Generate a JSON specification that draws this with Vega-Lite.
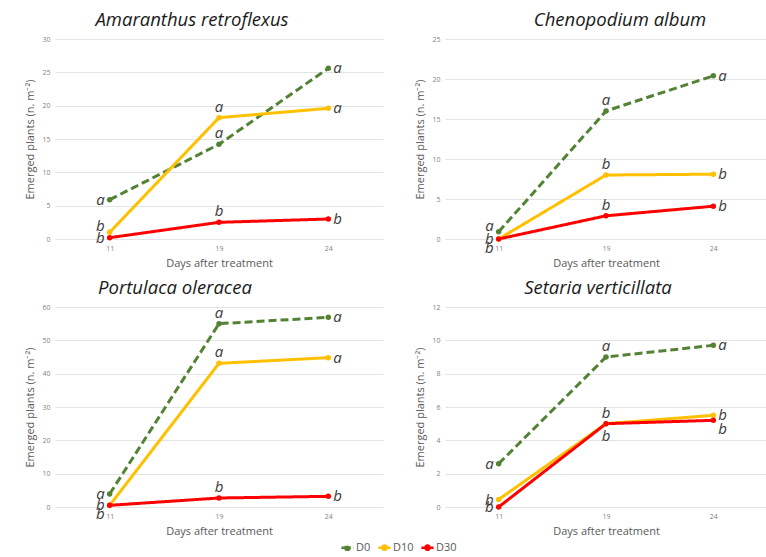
{
  "$schema": "https://vega.github.io/schema/vega-lite/v6.json",
  "padding": {"left": 24, "top": 10, "right": 0, "bottom": 0},
  "background": "white",
  "datasets": {
    "d": [
      {"sp": "Amaranthus retroflexus", "day": "11", "trt": "D0", "v": 5.9, "lab": "a", "pos": "LM"},
      {"sp": "Amaranthus retroflexus", "day": "19", "trt": "D0", "v": 14.2, "lab": "a", "pos": "CU"},
      {"sp": "Amaranthus retroflexus", "day": "24", "trt": "D0", "v": 25.6, "lab": "a", "pos": "RM"},
      {"sp": "Amaranthus retroflexus", "day": "11", "trt": "D10", "v": 1.0, "lab": "b", "pos": "LU"},
      {"sp": "Amaranthus retroflexus", "day": "19", "trt": "D10", "v": 18.2, "lab": "a", "pos": "CU"},
      {"sp": "Amaranthus retroflexus", "day": "24", "trt": "D10", "v": 19.6, "lab": "a", "pos": "RM"},
      {"sp": "Amaranthus retroflexus", "day": "11", "trt": "D30", "v": 0.2, "lab": "b", "pos": "LM"},
      {"sp": "Amaranthus retroflexus", "day": "19", "trt": "D30", "v": 2.5, "lab": "b", "pos": "CU"},
      {"sp": "Amaranthus retroflexus", "day": "24", "trt": "D30", "v": 3.0, "lab": "b", "pos": "RM"},
      {"sp": "Chenopodium album", "day": "11", "trt": "D0", "v": 0.9, "lab": "a", "pos": "LU"},
      {"sp": "Chenopodium album", "day": "19", "trt": "D0", "v": 16.0, "lab": "a", "pos": "CU"},
      {"sp": "Chenopodium album", "day": "24", "trt": "D0", "v": 20.4, "lab": "a", "pos": "RM"},
      {"sp": "Chenopodium album", "day": "11", "trt": "D10", "v": 0.0, "lab": "b", "pos": "LM"},
      {"sp": "Chenopodium album", "day": "19", "trt": "D10", "v": 8.0, "lab": "b", "pos": "CU"},
      {"sp": "Chenopodium album", "day": "24", "trt": "D10", "v": 8.1, "lab": "b", "pos": "RM"},
      {"sp": "Chenopodium album", "day": "11", "trt": "D30", "v": 0.0, "lab": "b", "pos": "LD"},
      {"sp": "Chenopodium album", "day": "19", "trt": "D30", "v": 2.9, "lab": "b", "pos": "CU"},
      {"sp": "Chenopodium album", "day": "24", "trt": "D30", "v": 4.1, "lab": "b", "pos": "RM"},
      {"sp": "Portulaca oleracea", "day": "11", "trt": "D0", "v": 3.9, "lab": "a", "pos": "LM"},
      {"sp": "Portulaca oleracea", "day": "19", "trt": "D0", "v": 55.0, "lab": "a", "pos": "CU"},
      {"sp": "Portulaca oleracea", "day": "24", "trt": "D0", "v": 56.9, "lab": "a", "pos": "RM"},
      {"sp": "Portulaca oleracea", "day": "11", "trt": "D10", "v": 0.5, "lab": "b", "pos": "LM"},
      {"sp": "Portulaca oleracea", "day": "19", "trt": "D10", "v": 43.1, "lab": "a", "pos": "CU"},
      {"sp": "Portulaca oleracea", "day": "24", "trt": "D10", "v": 44.8, "lab": "a", "pos": "RM"},
      {"sp": "Portulaca oleracea", "day": "11", "trt": "D30", "v": 0.5, "lab": "b", "pos": "LD"},
      {"sp": "Portulaca oleracea", "day": "19", "trt": "D30", "v": 2.7, "lab": "b", "pos": "CU"},
      {"sp": "Portulaca oleracea", "day": "24", "trt": "D30", "v": 3.2, "lab": "b", "pos": "RM"},
      {"sp": "Setaria verticillata", "day": "11", "trt": "D0", "v": 2.6, "lab": "a", "pos": "LM"},
      {"sp": "Setaria verticillata", "day": "19", "trt": "D0", "v": 9.0, "lab": "a", "pos": "CU"},
      {"sp": "Setaria verticillata", "day": "24", "trt": "D0", "v": 9.7, "lab": "a", "pos": "RM"},
      {"sp": "Setaria verticillata", "day": "11", "trt": "D10", "v": 0.45, "lab": "b", "pos": "LM"},
      {"sp": "Setaria verticillata", "day": "19", "trt": "D10", "v": 5.0, "lab": "b", "pos": "CU"},
      {"sp": "Setaria verticillata", "day": "24", "trt": "D10", "v": 5.5, "lab": "b", "pos": "RM"},
      {"sp": "Setaria verticillata", "day": "11", "trt": "D30", "v": 0.0, "lab": "b", "pos": "LM"},
      {"sp": "Setaria verticillata", "day": "19", "trt": "D30", "v": 5.0, "lab": "b", "pos": "CD"},
      {"sp": "Setaria verticillata", "day": "24", "trt": "D30", "v": 5.2, "lab": "b", "pos": "RD"}
    ]
  },
  "data": {"name": "d"},
  "columns": 2,
  "spacing": {"row": 10, "column": 31},
  "concat": [
    {
      "width": 328, "height": 200,
      "title": {"text": "Amaranthus retroflexus", "frame": "group", "dx": -27},
      "transform": [{"filter": "datum.sp == 'Amaranthus retroflexus'"}],
      "encoding": {
        "x": {"field": "day", "type": "ordinal", "scale": {"type": "point", "padding": 0.5}, "axis": {"title": "Days after treatment", "labelAngle": 0, "grid": false}},
        "y": {"field": "v", "type": "quantitative", "scale": {"domain": [0, 30]}, "axis": {"title": "Emerged plants (n. m⁻²)", "values": [0, 5, 10, 15, 20, 25, 30]}}
      },
      "layer": [
        {"mark": {"type": "line", "strokeWidth": 3, "point": {"filled": true, "size": 30}},
         "encoding": {
           "color": {"field": "trt", "type": "nominal", "title": null, "scale": {"domain": ["D0", "D10", "D30"], "range": ["#548235", "#ffc000", "#ff0000"]},
             "legend": {"orient": "none", "legendX": 285, "legendY": 501, "direction": "horizontal", "encode": {"symbols": {"update": {"fill": {"scale": "color", "field": "value"}}}}}},
           "strokeDash": {"field": "trt", "type": "nominal", "title": null, "scale": {"domain": ["D0", "D10", "D30"], "range": [[8, 4], [1, 0], [1, 0]]}, "legend": {"orient": "none", "legendX": 285, "legendY": 501, "direction": "horizontal"}}
         }},
        {"mark": {"type": "text", "font": "Open Sans", "fontStyle": "italic", "fontSize": 15, "fill": "#3b3b3b", "baseline": "middle",
           "dx": {"expr": "substring(datum.pos,0,1)=='L' ? -5 : substring(datum.pos,0,1)=='R' ? 5 : 0"},
           "dy": {"expr": "datum.pos=='CU' ? -11 : datum.pos=='CD' ? 12 : substring(datum.pos,1,2)=='U' ? -6 : substring(datum.pos,1,2)=='D' ? 9 : 0"},
           "align": {"expr": "substring(datum.pos,0,1)=='L' ? 'right' : substring(datum.pos,0,1)=='R' ? 'left' : 'center'"}},
         "encoding": {"text": {"field": "lab"}}}
      ]
    },
    {
      "width": 322, "height": 200,
      "title": {"text": "Chenopodium album", "frame": "group", "dx": 14},
      "transform": [{"filter": "datum.sp == 'Chenopodium album'"}],
      "encoding": {
        "x": {"field": "day", "type": "ordinal", "scale": {"type": "point", "padding": 0.5}, "axis": {"title": "Days after treatment", "labelAngle": 0, "grid": false}},
        "y": {"field": "v", "type": "quantitative", "scale": {"domain": [0, 25]}, "axis": {"title": "Emerged plants (n. m⁻²)", "values": [0, 5, 10, 15, 20, 25]}}
      },
      "layer": [
        {"mark": {"type": "line", "strokeWidth": 3, "point": {"filled": true, "size": 30}},
         "encoding": {
           "color": {"field": "trt", "type": "nominal", "title": null},
           "strokeDash": {"field": "trt", "type": "nominal", "title": null}
         }},
        {"mark": {"type": "text", "font": "Open Sans", "fontStyle": "italic", "fontSize": 15, "fill": "#3b3b3b", "baseline": "middle",
           "dx": {"expr": "substring(datum.pos,0,1)=='L' ? -5 : substring(datum.pos,0,1)=='R' ? 5 : 0"},
           "dy": {"expr": "datum.pos=='CU' ? -11 : datum.pos=='CD' ? 12 : substring(datum.pos,1,2)=='U' ? -6 : substring(datum.pos,1,2)=='D' ? 9 : 0"},
           "align": {"expr": "substring(datum.pos,0,1)=='L' ? 'right' : substring(datum.pos,0,1)=='R' ? 'left' : 'center'"}},
         "encoding": {"text": {"field": "lab"}}}
      ]
    },
    {
      "width": 328, "height": 200,
      "title": {"text": "Portulaca oleracea", "frame": "group", "dx": -44},
      "transform": [{"filter": "datum.sp == 'Portulaca oleracea'"}],
      "encoding": {
        "x": {"field": "day", "type": "ordinal", "scale": {"type": "point", "padding": 0.5}, "axis": {"title": "Days after treatment", "labelAngle": 0, "grid": false}},
        "y": {"field": "v", "type": "quantitative", "scale": {"domain": [0, 60]}, "axis": {"title": "Emerged plants (n. m⁻²)", "values": [0, 10, 20, 30, 40, 50, 60]}}
      },
      "layer": [
        {"mark": {"type": "line", "strokeWidth": 3, "point": {"filled": true, "size": 30}},
         "encoding": {
           "color": {"field": "trt", "type": "nominal", "title": null},
           "strokeDash": {"field": "trt", "type": "nominal", "title": null}
         }},
        {"mark": {"type": "text", "font": "Open Sans", "fontStyle": "italic", "fontSize": 15, "fill": "#3b3b3b", "baseline": "middle",
           "dx": {"expr": "substring(datum.pos,0,1)=='L' ? -5 : substring(datum.pos,0,1)=='R' ? 5 : 0"},
           "dy": {"expr": "datum.pos=='CU' ? -11 : datum.pos=='CD' ? 12 : substring(datum.pos,1,2)=='U' ? -6 : substring(datum.pos,1,2)=='D' ? 9 : 0"},
           "align": {"expr": "substring(datum.pos,0,1)=='L' ? 'right' : substring(datum.pos,0,1)=='R' ? 'left' : 'center'"}},
         "encoding": {"text": {"field": "lab"}}}
      ]
    },
    {
      "width": 322, "height": 200,
      "title": {"text": "Setaria verticillata", "frame": "group", "dx": -8},
      "transform": [{"filter": "datum.sp == 'Setaria verticillata'"}],
      "encoding": {
        "x": {"field": "day", "type": "ordinal", "scale": {"type": "point", "padding": 0.5}, "axis": {"title": "Days after treatment", "labelAngle": 0, "grid": false}},
        "y": {"field": "v", "type": "quantitative", "scale": {"domain": [0, 12]}, "axis": {"title": "Emerged plants (n. m⁻²)", "values": [0, 2, 4, 6, 8, 10, 12]}}
      },
      "layer": [
        {"mark": {"type": "line", "strokeWidth": 3, "point": {"filled": true, "size": 30}},
         "encoding": {
           "color": {"field": "trt", "type": "nominal", "title": null},
           "strokeDash": {"field": "trt", "type": "nominal", "title": null}
         }},
        {"mark": {"type": "text", "font": "Open Sans", "fontStyle": "italic", "fontSize": 15, "fill": "#3b3b3b", "baseline": "middle",
           "dx": {"expr": "substring(datum.pos,0,1)=='L' ? -5 : substring(datum.pos,0,1)=='R' ? 5 : 0"},
           "dy": {"expr": "datum.pos=='CU' ? -11 : datum.pos=='CD' ? 12 : substring(datum.pos,1,2)=='U' ? -6 : substring(datum.pos,1,2)=='D' ? 9 : 0"},
           "align": {"expr": "substring(datum.pos,0,1)=='L' ? 'right' : substring(datum.pos,0,1)=='R' ? 'left' : 'center'"}},
         "encoding": {"text": {"field": "lab"}}}
      ]
    }
  ],
  "config": {
    "view": {"stroke": null},
    "font": "Open Sans",
    "title": {"font": "Open Sans", "fontStyle": "italic", "fontSize": 18.5, "fontWeight": "normal", "color": "#1a1a1a", "offset": 6},
    "axis": {"labelFont": "Open Sans", "labelFontSize": 7, "labelColor": "#7f7f7f", "labelPadding": 5, "titleFont": "Open Sans", "titleFontSize": 11, "titleFontWeight": "normal", "titleColor": "#595959", "titlePadding": 6, "domain": false, "ticks": false, "gridColor": "#e3e3e3", "gridWidth": 1},
    "legend": {"labelFont": "Open Sans", "labelFontSize": 11, "labelColor": "#595959", "symbolType": "M-1,0H1M0.35,0A0.35,0.35 0 1 1 -0.35,0A0.35,0.35 0 1 1 0.35,0Z", "symbolSize": 150, "symbolStrokeWidth": 2.5, "columnPadding": 2, "labelOffset": 1}
  }
}
